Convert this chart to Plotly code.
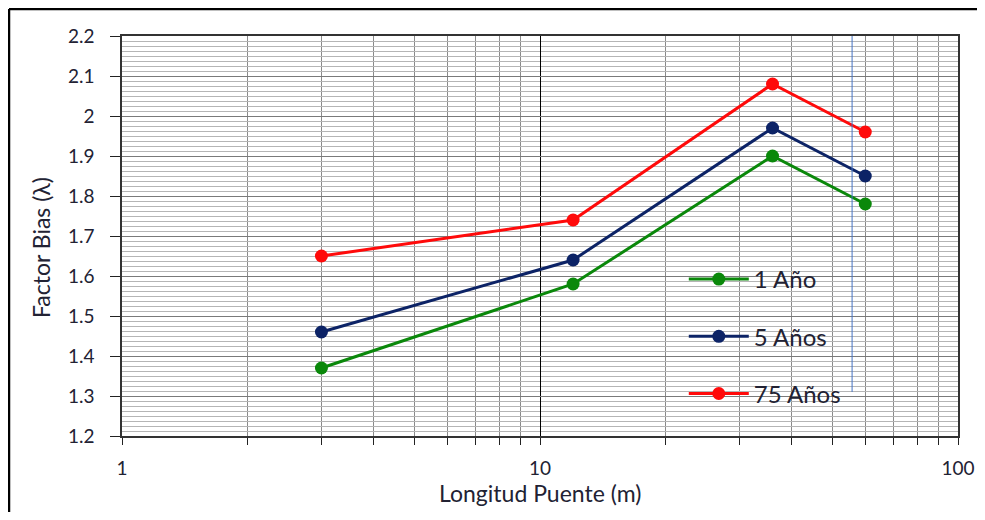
import plotly.graph_objects as go

longitud = [3, 12, 36, 60]
serie_1 = [1.37, 1.58, 1.90, 1.78]
serie_5 = [1.46, 1.64, 1.97, 1.85]
serie_75 = [1.65, 1.74, 2.08, 1.96]
nombres = ["1 Año", "5 Años", "75 Años"]
colores = ["#0a880a", "#0c2366", "#ff0a0a"]
x_ticks = [1, 10, 100]
x_minor = [2, 3, 4, 5, 6, 7, 8, 9, 20, 30, 40, 50, 60, 70, 80, 90]

FONT = "Lato, Open Sans, sans-serif"
fig = go.Figure()
for i, (nm, ys, c) in enumerate(zip(nombres, [serie_1, serie_5, serie_75], colores)):
    fig.add_trace(go.Scatter(
        x=longitud, y=ys, name=nm, mode="lines+markers",
        line=dict(color=c, width=3), marker=dict(color=c, size=13),
        legendgroup="g%d" % i,
    ))

# thin stray vertical line seen in the reference
fig.add_shape(type="line", xref="x", yref="y", x0=55.8, x1=55.8, y0=2.2, y1=1.31,
              line=dict(color="#4472c4", width=1))
# outer frame (left and top edges visible)
fx0 = -113 / 836
fy0 = 1 + 27 / 400
fig.add_shape(type="line", xref="paper", yref="paper", x0=fx0, x1=fx0, y0=fy0, y1=-0.4,
              line=dict(color="black", width=2.5), layer="above")
fig.add_shape(type="line", xref="paper", yref="paper", x0=fx0, x1=1.06, y0=fy0, y1=fy0,
              line=dict(color="black", width=2.5), layer="above")

fig.add_annotation(text="Factor Bias (λ)", xref="paper", yref="paper",
                   x=-81 / 836, y=0.47, textangle=-90, showarrow=False,
                   xanchor="center", yanchor="middle",
                   font=dict(size=23, color="#222233"))
fig.add_annotation(text="Longitud Puente (m)", xref="paper", yref="paper",
                   x=0.5, y=-57 / 400, showarrow=False,
                   xanchor="center", yanchor="middle",
                   font=dict(size=23, color="#222233"))

fig.update_layout(
    width=969, height=504,
    margin=dict(l=114, r=19, t=28, b=76, autoexpand=False),
    paper_bgcolor="white", plot_bgcolor="white",
    font=dict(family=FONT, size=19, color="#222233"),
    showlegend=True,
    legend=dict(x=0.672, y=0.4475, xanchor="left", yanchor="top",
                bgcolor="rgba(0,0,0,0)", font=dict(size=24, color="#222233"),
                tracegroupgap=23, itemwidth=60),
    xaxis=dict(type="log", range=[0, 2], tickvals=x_ticks, ticktext=["1", "10", "100"],
               automargin=False,
               showgrid=True, gridcolor="black", gridwidth=1.3,
               ticks="outside", ticklen=7, tickcolor="#222", tickwidth=1.3,
               showline=True, linecolor="#333", linewidth=1.5, mirror=True,
               tickfont=dict(size=19), ticklabelstandoff=7,
               minor=dict(tickmode="array", tickvals=x_minor, showgrid=True,
                          gridcolor="#8a8a8a", gridwidth=1.3, ticks="outside",
                          ticklen=7, tickcolor="#222", tickwidth=1.3),
               zeroline=False),
    yaxis=dict(range=[1.2, 2.2], dtick=0.1, tick0=1.2, automargin=False,
               showgrid=True, gridcolor="#7a7a7a", gridwidth=1.3,
               ticks="outside", ticklen=10, tickcolor="#222", tickwidth=1.3,
               showline=True, linecolor="#333", linewidth=1.5, mirror=True,
               tickfont=dict(size=19), tickformat="~g", ticklabelstandoff=12,
               minor=dict(dtick=0.0125, tick0=1.2, showgrid=True,
                          gridcolor="#b5b5b5", gridwidth=1),
               zeroline=False),
)
fig.write_html("out.html")
